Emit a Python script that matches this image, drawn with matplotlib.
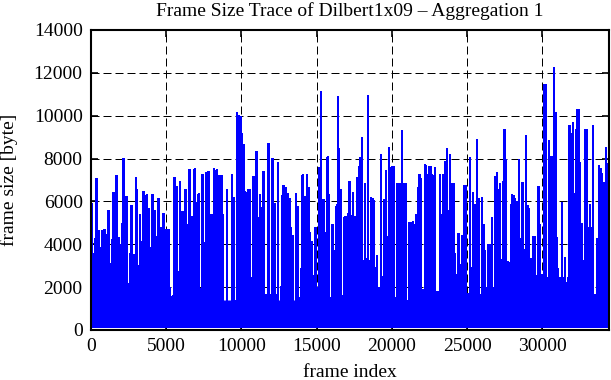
import matplotlib
matplotlib.use("Agg")
import matplotlib.pyplot as plt

# ---- data ----
spike_frames = [
    44, 155, 288, 377, 488, 643, 776, 887, 975, 1042, 1153, 1264, 1375, 1441, 1507, 1596,
    1707, 1840, 1929, 2084, 2172, 2261, 2372, 2483, 2594, 2705, 2838, 2993, 3059, 3148,
    3259, 3414, 3502, 3635, 3724, 3857, 3990, 4101, 4212, 4367, 4500, 4589, 4700, 4810,
    4921, 5032, 5143, 5210, 5298, 5431, 5564, 5697, 5808, 5919, 6096, 6207, 6296, 6407,
    6540, 6673, 6784, 6895, 7028, 7161, 7250, 7405, 7516, 7627, 7738, 7805, 7915, 8071,
    8182, 8293, 8382, 8470, 8581, 8692, 8759, 8870, 9025, 9136, 9247, 9380, 9510, 9620,
    9710, 9820, 9930, 10040, 10130, 10240, 10350, 10460, 10570, 10680, 10795, 10906,
    11017, 11128, 11239, 11350, 11460, 11571, 11682, 11815, 11904, 12059, 12192, 12281,
    12414, 12524, 12635, 12702, 12812, 12923, 13057, 13190, 13300, 13389, 13477, 13632,
    13743, 13854, 13965, 14076, 14165, 14253, 14342, 14453, 14564, 14674, 14741, 14874,
    14963, 15051, 15140, 15184, 15273, 15384, 15472, 15583, 15672, 15738, 15827, 15960,
    16049, 16160, 16293, 16382, 16426, 16493, 16604, 16692, 16825, 16914, 17003, 17091,
    17180, 17290, 17401, 17512, 17600, 17711, 17800, 17889, 18022, 18110, 18221, 18332,
    18399, 18487, 18598, 18709, 18798, 18908, 18997, 19108, 19263, 19374, 19485, 19596,
    19685, 19796, 19906, 20039, 20150, 20261, 20372, 20505, 20682, 20815, 20926, 21037,
    21170, 21258, 21391, 21502, 21613, 21724, 21835, 21945, 22056, 22189, 22278, 22367,
    22478, 22566, 22677, 22765, 22876, 22987, 23098, 23208, 23319, 23430, 23541, 23652,
    23763, 23873, 23984, 24095, 24184, 24317, 24427, 24494, 24605, 24693, 24782, 24893,
    24982, 25092, 25181, 25292, 25403, 25492, 25580, 25669, 25758, 25868, 25979, 26090,
    26201, 26312, 26378, 26489, 26600, 26667, 26777, 26888, 26999, 27088, 27199, 27309,
    27398, 27487, 27598, 27708, 27819, 27908, 27997, 28085, 28196, 28307, 28374, 28462,
    28573, 28684, 28795, 28906, 29016, 29127, 29238, 29327, 29415, 29526, 29637, 29748,
    29859, 29969, 30036, 30147, 30236, 30324, 30435, 30524, 30613, 30680, 30790, 30879,
    30968, 31057, 31190, 31301, 31412, 31523, 31633, 31722, 31811, 31922, 32033, 32143,
    32232, 32321, 32432, 32521, 32631, 32742, 32853, 32964, 33075, 33185, 33274, 33363,
    33474, 33585, 33673, 33784, 33873, 33962, 34050, 34139, 34228, 34294, 34383,
]
spike_sizes = [
    5900, 3580, 4280, 7060, 4640, 3860, 4640, 4680, 4480, 2740, 5570, 3110, 2220, 4220, 6410, 2070,
    7200, 4330, 3980, 4980, 8010, 3270, 6220, 2150, 3550, 5800, 3520, 7110, 6550, 3000,
    5370, 4140, 6460, 6300, 6320, 5650, 3830, 6320, 5600, 4360, 6160, 4590, 4790, 5460,
    2920, 4710, 4710, 1990, 1560, 1590, 7130, 6690, 2740, 6940, 5520, 2580, 6550, 4920,
    7480, 5300, 5290, 7520, 5960, 6350, 1960, 7280, 4090, 7360, 6040, 7410, 5380, 5380,
    7520, 7440, 7470, 7200, 7200, 7200, 5380, 1140, 6580, 1140, 1060, 7280, 6190, 1370,
    10150, 9990, 9970, 9150, 8650, 6470, 6430, 6580, 6580, 2460, 7170, 5000,
    8340, 5260, 6320, 5730, 7410, 1680, 1650, 8710, 1680, 8000, 5910, 1680,
    7830, 1210, 2020, 6270, 6740, 6660, 6380, 6120, 4790, 4400, 1180, 6350,
    5760, 1520, 2890, 7250, 2300, 6220, 7250, 6660, 4560, 4140, 2540, 4790,
    4790, 1990, 6380, 7590, 11140, 6080, 6080, 4560, 1990, 8110, 6320, 1520,
    4920, 3700, 5770, 5850, 10890, 8480, 6550, 1600, 5260, 5290, 1990, 5450,
    6940, 5340, 6430, 5290, 2800, 7130, 7620, 8060, 8990, 3240, 6850, 3360,
    10940, 3240, 6190, 6160, 6040, 2930, 3470, 1990, 8180, 2490, 6070, 7440,
    4360, 8530, 7590, 7640, 7620, 1520, 6850, 6820, 9300, 6850, 6820, 1370,
    5030, 5030, 5060, 4920, 5410, 6660, 7280, 7050, 1910, 7720, 7670, 7250,
    7640, 7640, 7250, 7200, 7590, 1800, 1800, 7240, 5410, 7240, 7870, 8480,
    5570, 8180, 6860, 6860, 3580, 2580, 4510, 2850, 3050, 4430, 6740, 6740,
    1710, 1710, 8060, 2930, 6430, 5880, 2930, 8870, 6150, 1650, 6190, 4920,
    3700, 1990, 3980, 3980, 2380, 5260, 1990, 7170, 7360, 6580, 6820, 3270,
    6940, 9340, 7940, 3210, 3160, 5880, 6320, 6270, 6120, 6010, 4290, 7980,
    4280, 6890, 3780, 9070, 5800, 5690, 3360, 1210, 4360, 4360, 2540, 6690,
    4920, 2610, 1520, 11450, 11450, 2430, 8840, 7900, 8090, 8090, 12250, 10160,
    4330, 2850, 2460, 5960, 2460, 3390, 2220, 2460, 9540, 9150, 9690, 6350,
    9380, 10270, 10270, 7830, 4950, 3240, 9380, 9380, 4790, 5880, 4790, 9540,
    1680, 1140, 4290, 7670, 7520, 7310, 6890, 6890, 8530, 7750, 1140,
]
floor_level = 130          # smallest frame sizes along the bottom of the trace
# top of the solid lower band (small frames), read per segment
band_frames = [0, 4800, 5200, 5600, 34440]
band_top = [1400, 1400, 1050, 1400, 1400]

x_ticks = [0, 5000, 10000, 15000, 20000, 25000, 30000]
y_ticks = [0, 2000, 4000, 6000, 8000, 10000, 12000, 14000]

plt.rcParams['font.family'] = ['Liberation Serif', 'DejaVu Serif']

fig = plt.figure(figsize=(6.11, 3.80), dpi=100)
ax = fig.add_axes([91/611, 50/380, 518/611, 300/380])

BLUE = (0, 0, 1)
ax.fill_between(band_frames, floor_level, band_top, color=BLUE, lw=0,
                antialiased=False, zorder=2)
heights = [s - floor_level for s in spike_sizes]
bars = ax.bar(spike_frames, heights, width=95, bottom=floor_level, color=BLUE,
              lw=0, antialiased=False, zorder=2)
for b in bars:
    b.set_snap(False)

ax.set_xlim(0, 34440)
ax.set_ylim(0, 14000)
ax.set_xticks(x_ticks)
ax.set_yticks(y_ticks)
ax.set_xticklabels([str(v) for v in x_ticks])
ax.set_yticklabels([str(v) for v in y_ticks])

ax.grid(True, color='black', lw=0.72, linestyle=(0, (8, 4)), zorder=1)
ax.set_axisbelow(True)

for s in ax.spines.values():
    s.set_linewidth(1.5)
    s.set_zorder(4)

ax.tick_params(axis='both', direction='in', length=5, width=1.2, labelsize=14,
               top=True, right=True, pad=6)

ax.set_title("Frame Size Trace of Dilbert1x09 \u2013 Aggregation 1", fontsize=14, pad=10)
ax.set_xlabel("frame index", fontsize=14, va='top')
ax.xaxis.set_label_coords(0.5, -0.112)
ax.set_ylabel("frame size [byte]", fontsize=14)
ax.yaxis.set_label_coords(-0.140, 0.5)

fig.savefig("out.png", dpi=100)
